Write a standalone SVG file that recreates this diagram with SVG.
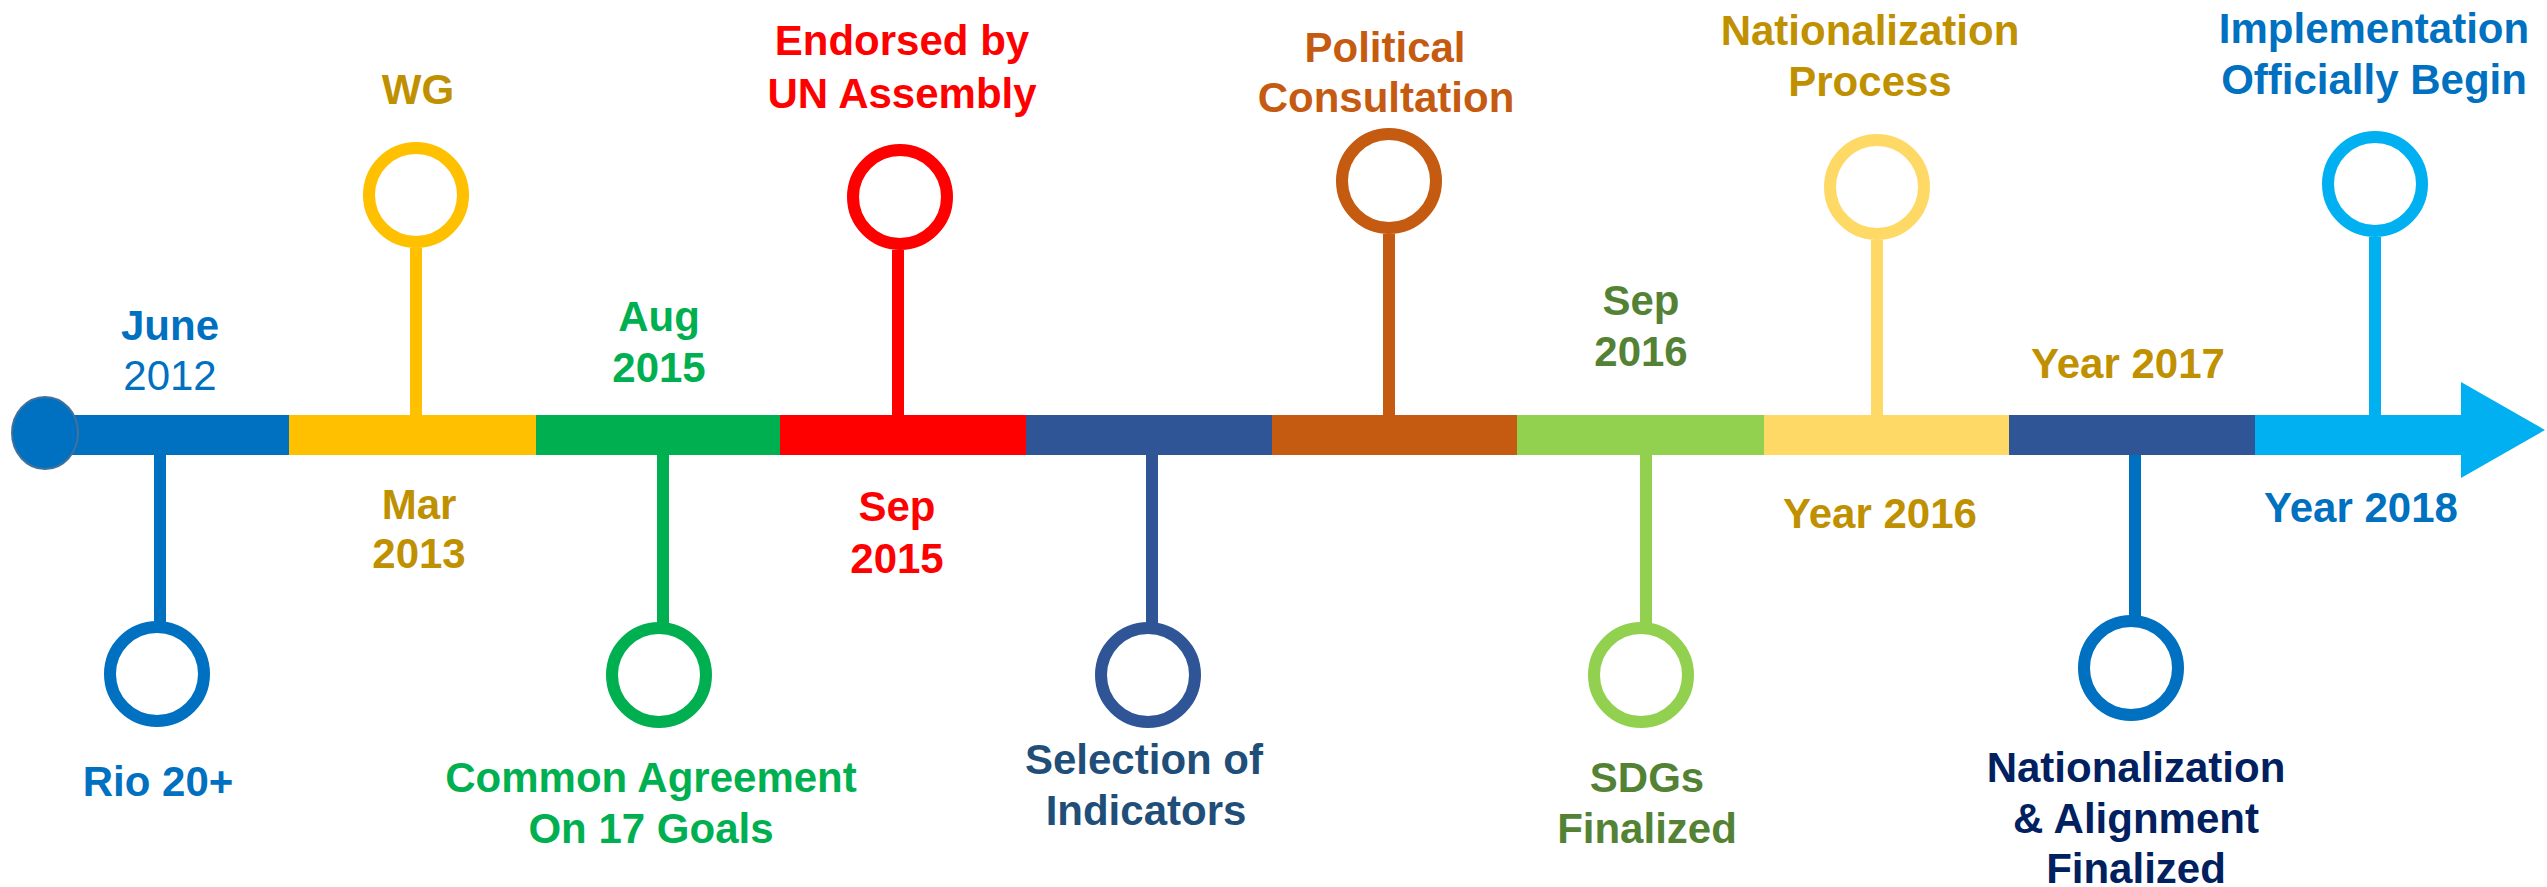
<svg xmlns="http://www.w3.org/2000/svg" width="2547" height="887" viewBox="0 0 2547 887">
<style>
text{font-family:"Liberation Sans",Arial,sans-serif;font-size:42px;font-weight:bold;text-anchor:middle}
.reg{font-weight:normal}
.ring{fill:#fff;stroke-width:12}
.stem{stroke-width:12;fill:none}
</style>
<rect width="2547" height="887" fill="#fff"/>
<g id="timeline">
<rect x="45" y="415" width="245" height="40" fill="#0070C0"/>
<rect x="289" y="415" width="248" height="40" fill="#FFC000"/>
<rect x="536" y="415" width="245" height="40" fill="#00B050"/>
<rect x="780" y="415" width="247" height="40" fill="#FF0000"/>
<rect x="1026" y="415" width="247" height="40" fill="#2F5597"/>
<rect x="1272" y="415" width="246" height="40" fill="#C55A11"/>
<rect x="1517" y="415" width="248" height="40" fill="#92D050"/>
<rect x="1764" y="415" width="246" height="40" fill="#FFD966"/>
<rect x="2009" y="415" width="247" height="40" fill="#2F5597"/>
<polygon points="2255,415 2461,415 2461,382 2545,430 2461,478 2461,455 2255,455" fill="#00B0F0"/>
<ellipse cx="45" cy="433" rx="33" ry="36" fill="#0070C0" stroke="#41719C" stroke-width="2"/>
</g>
<g id="connectors">
<line class="stem" x1="160" y1="455" x2="160" y2="622" stroke="#0070C0"/>
<line class="stem" x1="416" y1="248" x2="416" y2="416" stroke="#FFC000"/>
<line class="stem" x1="663" y1="455" x2="663" y2="623" stroke="#00B050"/>
<line class="stem" x1="898" y1="250" x2="898" y2="416" stroke="#FF0000"/>
<line class="stem" x1="1152" y1="455" x2="1152" y2="623" stroke="#2F5597"/>
<line class="stem" x1="1389" y1="234" x2="1389" y2="416" stroke="#C55A11"/>
<line class="stem" x1="1646" y1="455" x2="1646" y2="623" stroke="#92D050"/>
<line class="stem" x1="1877" y1="240" x2="1877" y2="416" stroke="#FFD966"/>
<line class="stem" x1="2135" y1="455" x2="2135" y2="616" stroke="#0070C0"/>
<line class="stem" x1="2375" y1="237" x2="2375" y2="416" stroke="#00B0F0"/>
</g>
<g id="node-start">
<text x="170" y="340" fill="#0070C0">June</text>
<text class="reg" x="170" y="390" fill="#0070C0">2012</text>
</g>
<g id="node-rio">
<circle class="ring" cx="157" cy="674" r="47" stroke="#0070C0"/>
<text x="158" y="796" fill="#0070C0">Rio 20+</text>
</g>
<g id="node-wg">
<circle class="ring" cx="416" cy="195" r="47" stroke="#FFC000"/>
<text x="418" y="104" fill="#BF9000">WG</text>
<text x="419" y="519" fill="#BF9000">Mar</text>
<text x="419" y="568" fill="#BF9000">2013</text>
</g>
<g id="node-common">
<circle class="ring" cx="659" cy="675" r="47" stroke="#00B050"/>
<text x="659" y="331" fill="#00B050">Aug</text>
<text x="659" y="382" fill="#00B050">2015</text>
<text x="651" y="792" fill="#00B050">Common Agreement</text>
<text x="651" y="843" fill="#00B050">On 17 Goals</text>
</g>
<g id="node-endorsed">
<circle class="ring" cx="900" cy="197" r="47" stroke="#FF0000"/>
<text x="902" y="55" fill="#FF0000">Endorsed by</text>
<text x="902" y="108" fill="#FF0000">UN Assembly</text>
<text x="897" y="521" fill="#FF0000">Sep</text>
<text x="897" y="573" fill="#FF0000">2015</text>
</g>
<g id="node-selection">
<circle class="ring" cx="1148" cy="675" r="47" stroke="#2F5597"/>
<text x="1144" y="774" fill="#1F4E79">Selection of</text>
<text x="1146" y="825" fill="#1F4E79">Indicators</text>
</g>
<g id="node-political">
<circle class="ring" cx="1389" cy="181" r="47" stroke="#C55A11"/>
<text x="1385" y="62" fill="#C55A11">Political</text>
<text x="1386" y="112" fill="#C55A11">Consultation</text>
</g>
<g id="node-sdgs">
<circle class="ring" cx="1641" cy="675" r="47" stroke="#92D050"/>
<text x="1641" y="315" fill="#548235">Sep</text>
<text x="1641" y="366" fill="#548235">2016</text>
<text x="1647" y="792" fill="#548235">SDGs</text>
<text x="1647" y="843" fill="#548235">Finalized</text>
</g>
<g id="node-nationalization">
<circle class="ring" cx="1877" cy="187" r="47" stroke="#FFD966"/>
<text x="1870" y="45" fill="#BF9000">Nationalization</text>
<text x="1870" y="96" fill="#BF9000">Process</text>
<text x="1880" y="528" fill="#BF9000">Year 2016</text>
</g>
<g id="node-alignment">
<circle class="ring" cx="2131" cy="668" r="47" stroke="#0070C0"/>
<text x="2128" y="378" fill="#BF9000">Year 2017</text>
<text x="2136" y="782" fill="#002060">Nationalization</text>
<text x="2136" y="833" fill="#002060">&amp; Alignment</text>
<text x="2136" y="883" fill="#002060">Finalized</text>
</g>
<g id="node-implementation">
<circle class="ring" cx="2375" cy="184" r="47" stroke="#00B0F0"/>
<text x="2374" y="43" fill="#0070C0">Implementation</text>
<text x="2374" y="94" fill="#0070C0">Officially Begin</text>
<text x="2361" y="522" fill="#0070C0">Year 2018</text>
</g>
</svg>
